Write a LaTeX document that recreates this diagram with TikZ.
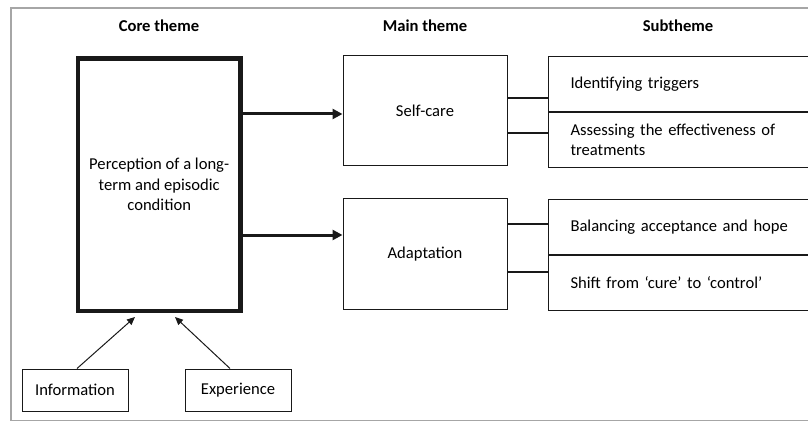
\documentclass[tikz,border=0pt]{standalone}
\usepackage{fontspec}
\setmainfont{Carlito}
\usetikzlibrary{arrows.meta,calc}
\begin{document}
\begin{tikzpicture}[x=1pt,y=-1pt,
  txt/.style={font=\fontsize{16.6}{20.5}\selectfont},
  hdr/.style={font=\fontsize{16.6}{18}\selectfont\bfseries},
  box/.style={draw=black!90,line width=1pt,txt,inner sep=0pt},
  corebox/.style={draw=black!90,line width=4.7pt,txt,inner sep=0pt,align=center},
  subbox/.style={draw=black!90,line width=1pt,txt,minimum width=264pt,minimum height=55pt,text width=230pt,inner xsep=22pt,inner ysep=0pt,align=left},
  bigarrow/.style={line width=3pt,black!90,-{Triangle[length=10pt,width=10pt]}},
  thinarrow/.style={line width=1pt,black!90,-{Triangle[length=8pt,width=7pt]}},
  link/.style={line width=2pt,black!90}]
\useasboundingbox (0,0) rectangle (808,422);
\clip (0,0) rectangle (808,422);
\draw[black!35,line width=1.6pt] (11,8) rectangle (830,420.5);
% headers
\node[hdr] (h1) at (159,26) {Core theme};
\node[hdr] (h2) at (425,26) {Main theme};
\node[hdr] (h3) at (678,26) {Subtheme};
% core
\node[corebox,minimum width=162.5pt,minimum height=252.5pt] (core) at (159.2,184.7)
  {Perception of a long-\\term and episodic\\condition};
% main themes
\node[box,minimum width=164pt,minimum height=110pt] (sc) at (425,111) {Self-care};
\node[box,minimum width=164pt,minimum height=110pt] (ad) at (425,254) {Adaptation};
% subthemes
\node[subbox,anchor=north west] (s1a) at (548,56) {Identifying triggers};
\node[subbox,anchor=north west] (s1b) at (s1a.south west) {Assessing the effectiveness of\\treatments};
\node[subbox,anchor=north west] (s2a) at (548,199) {Balancing acceptance and hope};
\node[subbox,anchor=north west] (s2b) at (s2a.south west) {Shift from ‘cure’ to ‘control’};
% inputs
\node[box,minimum width=106pt,minimum height=42pt] (info) at (75,390) {Information};
\node[box,minimum width=106pt,minimum height=42pt] (exp) at (238,390) {Experience};
% arrows
\draw[bigarrow] (core.east |- 0,114) -- (sc.west |- 0,114);
\draw[bigarrow] (core.east |- 0,235) -- (ad.west |- 0,235);
\draw[thinarrow] (info.north -| 77,0) -- (135,317);
\draw[thinarrow] (exp.north -| 230,0) -- (175,317);
% links
\draw[link] (sc.east |- 0,98) -- (s1a.west |- 0,98);
\draw[link] (sc.east |- 0,133) -- (s1b.west |- 0,133);
\draw[link] (ad.east |- 0,224) -- (s2a.west |- 0,224);
\draw[link] (ad.east |- 0,272) -- (s2b.west |- 0,272);
\end{tikzpicture}
\end{document}
